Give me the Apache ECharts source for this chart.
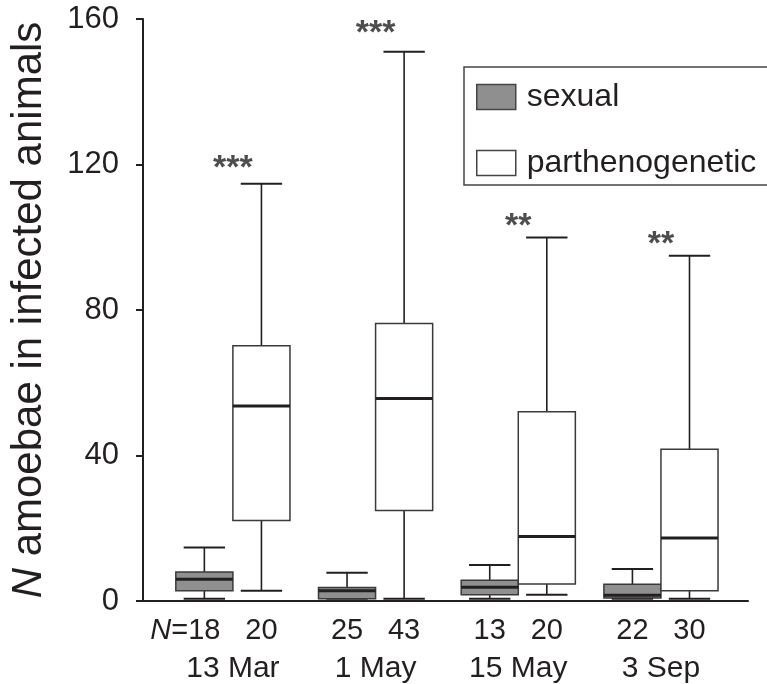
<!DOCTYPE html>
<html>
<head>
<meta charset="utf-8">
<script src="https://cdn.jsdelivr.net/npm/echarts@6/dist/echarts.min.js"></script>
<style>
  html, body { margin: 0; padding: 0; background: #fff; }
  #chart { width: 767px; height: 684px; }
</style>
</head>
<body>
<div id="chart"></div>
<script>
// dates and sample sizes
var groups = ['13 Mar', '1 May', '15 May', '3 Sep'];
var nSexual = [18, 25, 13, 22];
var nParth = [20, 43, 20, 30];

// [min, q1, median, q3, max]
var sexualStats = [
    [0.6, 2.8, 6.0, 8.0, 14.7],
    [0.6, 0.6, 2.8, 3.7, 7.8],
    [0.6, 1.7, 3.8, 5.7, 9.9],
    [0.6, 0.8, 1.6, 4.6, 8.8]
];
var parthStats = [
    [2.8, 22.1, 53.6, 70.2, 114.7],
    [0.6, 24.9, 55.7, 76.3, 151.0],
    [1.7, 4.7, 17.7, 52.0, 99.9],
    [0.6, 2.8, 17.3, 41.7, 94.9]
];

// significance marks and their height
var signif = ['***', '***', '**', '**'];
var signifY = [119, 156, 103, 98];

var yTicks = [0, 40, 80, 120, 160];

var INK = '#231f20';
var FONT = 'Liberation Sans, Arial, Helvetica, sans-serif';
var HALF = 0.2;   // half box width, in x units
var CAP = 0.145;  // half whisker cap width

function boxData(stats) {
    return stats.map(function (s, i) {
        return [i].concat(s);
    });
}

function renderBox(side) {
    return function (params, api) {
        var x = api.value(0) + side * HALF;
        var cx = api.coord([x, 0])[0];
        var l = api.coord([x - HALF, 0])[0];
        var r = api.coord([x + HALF, 0])[0];
        var cl = api.coord([x - CAP, 0])[0];
        var cr = api.coord([x + CAP, 0])[0];
        var yMin = api.coord([x, api.value(1)])[1];
        var yQ1 = api.coord([x, api.value(2)])[1];
        var yMed = api.coord([x, api.value(3)])[1];
        var yQ3 = api.coord([x, api.value(4)])[1];
        var yMax = api.coord([x, api.value(5)])[1];
        var ln = {stroke: INK, lineWidth: 1.6};
        return {
            type: 'group',
            children: [
                {type: 'line', shape: {x1: cx, y1: yMax, x2: cx, y2: yQ3}, style: ln},
                {type: 'line', shape: {x1: cx, y1: yQ1, x2: cx, y2: yMin}, style: ln},
                {type: 'line', shape: {x1: cl, y1: yMax, x2: cr, y2: yMax}, style: {stroke: INK, lineWidth: 2}},
                {type: 'line', shape: {x1: cl, y1: yMin, x2: cr, y2: yMin}, style: {stroke: INK, lineWidth: 2}},
                {type: 'rect', shape: {x: l, y: yQ3, width: r - l, height: yQ1 - yQ3},
                    style: {fill: api.visual('color'), stroke: '#3a3a3a', lineWidth: 1.5}},
                {type: 'line', shape: {x1: l, y1: yMed, x2: r, y2: yMed}, style: {stroke: INK, lineWidth: 3}}
            ]
        };
    };
}

var chart = echarts.init(document.getElementById('chart'));
chart.setOption({
    animation: false,
    backgroundColor: '#fff',
    grid: {left: 143, right: 19, top: 19, bottom: 83},
    legend: {
        orient: 'vertical',
        left: 464,
        top: 67,
        padding: [14, 12, 6, 12],
        itemGap: 34,
        itemWidth: 39,
        itemHeight: 25,
        icon: 'rect',
        borderColor: '#444',
        borderWidth: 1.5,
        itemStyle: {borderColor: '#444', borderWidth: 1.5},
        textStyle: {fontFamily: FONT, fontSize: 32, color: INK, lineHeight: 25, padding: [0, 0, 0, 6]},
        data: ['sexual', 'parthenogenetic']
    },
    xAxis: [
        {
            type: 'value',
            min: -0.63,
            max: 3.61,
            splitLine: {show: false},
            axisLine: {onZero: false, lineStyle: {color: INK, width: 2}},
            axisTick: {show: false},
            axisLabel: {
                customValues: [-0.2, 0.2, 0.8, 1.2, 1.8, 2.2, 2.8, 3.2],
                margin: 15,
                fontFamily: FONT,
                fontSize: 29,
                color: INK,
                formatter: function (v) {
                    var g = Math.round(v);
                    if (v < g) {
                        return g === 0 ? '{n|N}={d|' + nSexual[g] + '}{sp|}' : '' + nSexual[g];
                    }
                    return '' + nParth[g];
                },
                rich: {
                    n: {fontFamily: FONT, fontSize: 29, fontStyle: 'italic', color: INK},
                    d: {fontFamily: FONT, fontSize: 29, color: INK},
                    sp: {width: 38}
                }
            }
        },
        {
            type: 'value',
            position: 'bottom',
            offset: 38,
            min: -0.63,
            max: 3.61,
            splitLine: {show: false},
            axisLine: {show: false, onZero: false},
            axisTick: {show: false},
            axisLabel: {
                customValues: [0, 1, 2, 3],
                margin: 15,
                fontFamily: FONT,
                fontSize: 30,
                color: INK,
                formatter: function (v) {
                    return groups[Math.round(v)];
                }
            }
        }
    ],
    yAxis: {
        type: 'value',
        min: 0,
        max: 160,
        interval: 40,
        splitLine: {show: false},
        axisLine: {show: true, onZero: false, lineStyle: {color: INK, width: 2}},
        axisTick: {show: true, length: 7, lineStyle: {color: INK, width: 2}},
        axisLabel: {
            margin: 24,
            fontFamily: FONT,
            fontSize: 31,
            color: INK,
            customValues: yTicks
        },
        name: '{n|N} amoebae in infected animals',
        nameLocation: 'middle',
        nameGap: 93,
        nameTextStyle: {
            fontFamily: FONT,
            fontSize: 42,
            color: INK,
            rich: {
                n: {fontFamily: FONT, fontSize: 42, fontStyle: 'italic', color: INK}
            }
        }
    },
    series: [
        {
            name: 'sexual',
            type: 'custom',
            itemStyle: {color: '#8f8f8f'},
            renderItem: renderBox(-1),
            encode: {x: 0, y: [1, 2, 3, 4, 5]},
            data: boxData(sexualStats)
        },
        {
            name: 'parthenogenetic',
            type: 'custom',
            itemStyle: {color: '#ffffff'},
            renderItem: renderBox(1),
            encode: {x: 0, y: [1, 2, 3, 4, 5]},
            data: boxData(parthStats)
        },
        {
            name: 'signif',
            type: 'scatter',
            symbolSize: 0,
            silent: true,
            label: {
                show: true,
                position: 'inside',
                fontFamily: FONT,
                fontSize: 34,
                fontWeight: 'bold',
                color: INK,
                formatter: function (p) {
                    return signif[p.dataIndex];
                }
            },
            data: signifY.map(function (y, i) {
                return [i, y];
            })
        }
    ]
});
</script>
</body>
</html>
